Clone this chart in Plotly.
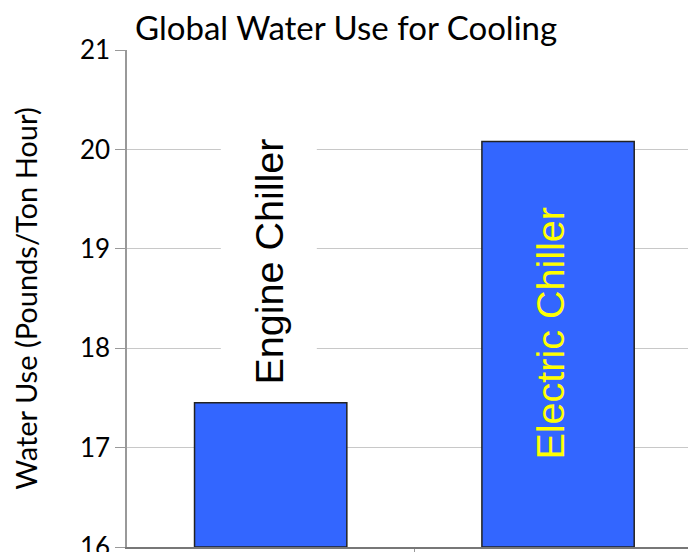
import plotly.graph_objects as go

categories = ["Engine Chiller", "Electric Chiller"]
values = [17.45, 20.08]
label_colors = ["black", "#FFFF00"]
y_ticks = [16, 17, 18, 19, 20, 21]
y_base = 16

# the page body adds an 8px margin; compensate so the chart fills the 696x552 window
OFF = 8
W, H = 696 - OFF, 552 - OFF

fig = go.Figure()
fig.add_trace(go.Bar(
    x=[0, 1], y=[v - y_base for v in values], base=y_base, width=0.53,
    marker=dict(color="#3366FF", line=dict(color="#222222", width=1.5)),
    hoverinfo="skip",
))

fig.add_annotation(x=0, y=values[0], xref="x", yref="y", text=categories[0],
                   textangle=-90, showarrow=False, yanchor="bottom", yshift=17,
                   font=dict(family="Liberation Sans, Arial", size=39.5, color=label_colors[0]),
                   bgcolor="white", height=93, width=245, xshift=-2)
fig.add_annotation(x=1, y=values[1], xref="x", yref="y", text=categories[1],
                   textangle=-90, showarrow=False, yanchor="top", yshift=-64,
                   font=dict(family="Liberation Sans, Arial", size=39.5, color=label_colors[1]),
                   xshift=-8)

fig.update_layout(
    width=W, height=H,
    margin=dict(l=127 - OFF, r=0, t=50 - OFF, b=H - (547 - OFF), autoexpand=False),
    paper_bgcolor="white", plot_bgcolor="white",
    showlegend=False,
    title=dict(text="Global Water Use for Cooling", x=(135 - OFF) / W, xanchor="left", xref="container",
               y=1 - (28 - OFF) / H, yanchor="middle", yref="container",
               font=dict(family="Lato", size=33, color="black")),
    yaxis=dict(range=[16, 21], tickvals=y_ticks, ticktext=[str(t) for t in y_ticks],
               ticks="outside", ticklen=10, tickcolor="#999999", showgrid=True,
               gridcolor="#c8c8c8", gridwidth=1, showline=True, linecolor="#999999", linewidth=1.5,
               tickfont=dict(family="Lato", size=26, color="black"),
               ticklabeloverflow="allow", automargin=False,
               title=dict(text="Water Use (Pounds/Ton Hour)", standoff=38,
                          font=dict(family="Lato", size=29, color="black")),
               zeroline=False),
    xaxis=dict(range=[-0.5, 1.48], tickvals=[0.5], ticktext=[""], ticks="outside", ticklen=3,
               tickcolor="#999999", showline=True, linecolor="#777777", linewidth=2,
               showgrid=False, zeroline=False, automargin=False),
)

fig.write_html("out.html")
